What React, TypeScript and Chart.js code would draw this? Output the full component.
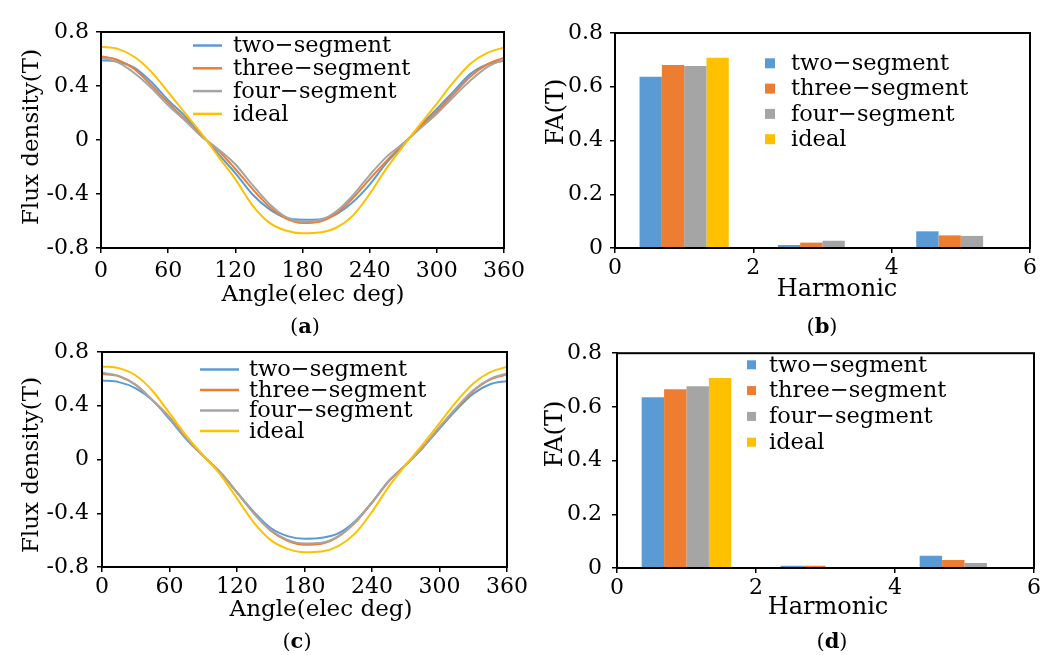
import React, { useEffect, useRef } from 'react';
import { Chart, registerables } from 'chart.js';

Chart.register(...registerables);

const FONT = '"DejaVu Serif", serif';
const SERIES_NAMES = ['two\u2212segment', 'three\u2212segment', 'four\u2212segment', 'ideal'];
const COLORS = ['#5B9BD5', '#ED7D31', '#A5A5A5', '#FFC000'];

// Flux density waveforms (electrical degrees)
const ANGLES = [0, 15, 30, 45, 60, 75, 90, 105, 120, 135, 150, 165, 180, 195, 210, 225, 240, 255, 270, 285, 300, 315, 330, 345, 360];

const A_TWO = [0.59, 0.58, 0.535, 0.43, 0.295, 0.177, 0.038, -0.105, -0.245, -0.4, -0.51, -0.575, -0.59, -0.588, -0.55, -0.46, -0.33, -0.17, -0.038, 0.105, 0.23, 0.36, 0.49, 0.56, 0.588];
const A_THREE = [0.62, 0.593, 0.525, 0.405, 0.275, 0.155, 0.03, -0.08, -0.215, -0.36, -0.49, -0.58, -0.615, -0.605, -0.545, -0.43, -0.29, -0.155, -0.03, 0.095, 0.21, 0.34, 0.47, 0.56, 0.61];
const A_FOUR = [0.61, 0.575, 0.495, 0.385, 0.257, 0.145, 0.025, -0.07, -0.18, -0.33, -0.47, -0.57, -0.605, -0.595, -0.53, -0.41, -0.26, -0.125, -0.025, 0.085, 0.195, 0.32, 0.44, 0.54, 0.595];
const A_IDEAL = [0.69, 0.675, 0.615, 0.505, 0.355, 0.2, 0.045, -0.125, -0.29, -0.48, -0.61, -0.67, -0.69, -0.685, -0.65, -0.56, -0.4, -0.21, -0.045, 0.115, 0.27, 0.43, 0.565, 0.645, 0.685];

const C_TWO = [0.588, 0.576, 0.53, 0.44, 0.3, 0.15, 0.025, -0.095, -0.245, -0.39, -0.51, -0.57, -0.59, -0.583, -0.55, -0.46, -0.32, -0.16, -0.04, 0.085, 0.23, 0.37, 0.49, 0.56, 0.585];
const C_THREE = [0.636, 0.62, 0.555, 0.44, 0.315, 0.16, 0.027, -0.095, -0.245, -0.4, -0.53, -0.605, -0.635, -0.628, -0.575, -0.47, -0.32, -0.16, -0.04, 0.09, 0.24, 0.38, 0.51, 0.595, 0.632];
const C_FOUR = [0.645, 0.622, 0.555, 0.44, 0.31, 0.16, 0.027, -0.095, -0.245, -0.4, -0.525, -0.598, -0.625, -0.62, -0.57, -0.465, -0.32, -0.16, -0.04, 0.09, 0.24, 0.385, 0.515, 0.6, 0.64];
const C_IDEAL = [0.693, 0.68, 0.625, 0.51, 0.345, 0.175, 0.03, -0.11, -0.29, -0.47, -0.6, -0.665, -0.69, -0.685, -0.645, -0.55, -0.39, -0.2, -0.04, 0.11, 0.27, 0.43, 0.565, 0.65, 0.69];

// Harmonic amplitudes
const HARMONICS = [1, 3, 5];
const B_TWO = [0.637, 0.011, 0.062];
const B_THREE = [0.681, 0.02, 0.047];
const B_FOUR = [0.677, 0.027, 0.045];
const B_IDEAL = [0.708, 0, 0];

const D_TWO = [0.636, 0.0085, 0.046];
const D_THREE = [0.666, 0.0085, 0.03];
const D_FOUR = [0.677, 0.004, 0.019];
const D_IDEAL = [0.708, 0, 0];

const LINE_X_TICKS = { min: 0, max: 360, step: 60 };
const LINE_Y_TICKS = { min: -0.8, max: 0.8, step: 0.4 };
const BAR_X_TICKS = { min: 0, max: 6, step: 2 };
const BAR_Y_TICKS = { min: 0, max: 0.8, step: 0.2 };

type Geo = {
  top: number; right: number; yw: number; xh: number; xpad: number; ypad: number;
  titleSize: number;
  xTitle: string; xtx: number; xty: number;
  yTitle: string; ytx: number; yty: number;
  leg: { kind: 'line' | 'box'; x0: number; w: number; textX: number; y0: number; dy: number };
};

function decorPlugin(g: Geo) {
  return {
    id: 'panelDecor',
    afterDraw(chart: any) {
      const { ctx, chartArea: ca } = chart;
      ctx.save();
      ctx.strokeStyle = '#000';
      ctx.lineWidth = 2;
      ctx.strokeRect(ca.left, ca.top, ca.right - ca.left, ca.bottom - ca.top);
      ctx.fillStyle = '#000';
      ctx.textAlign = 'center';
      ctx.textBaseline = 'middle';
      ctx.font = `${g.titleSize}px ${FONT}`;
      ctx.fillText(g.xTitle, g.xtx, g.xty);
      ctx.save();
      ctx.translate(g.ytx, g.yty);
      ctx.rotate(-Math.PI / 2);
      ctx.fillText(g.yTitle, 0, 0);
      ctx.restore();
      ctx.font = `22.5px ${FONT}`;
      ctx.textAlign = 'left';
      chart.data.datasets.forEach((ds: any, i: number) => {
        const y = g.leg.y0 + i * g.leg.dy;
        if (g.leg.kind === 'line') {
          ctx.strokeStyle = ds.borderColor;
          ctx.lineWidth = 2.5;
          ctx.beginPath();
          ctx.moveTo(g.leg.x0, y);
          ctx.lineTo(g.leg.x0 + g.leg.w, y);
          ctx.stroke();
        } else {
          ctx.fillStyle = ds.backgroundColor;
          ctx.fillRect(g.leg.x0, y - g.leg.w / 2, g.leg.w, g.leg.w);
        }
        ctx.fillStyle = '#000';
        ctx.fillText(ds.label, g.leg.textX, y + 1);
      });
      ctx.restore();
    },
  };
}

const gridStyle = { drawOnChartArea: false, drawTicks: true, tickLength: 5, color: '#000', lineWidth: 1.5 };
const borderStyle = { display: true, color: '#000', width: 2 };
const tickFont = { family: FONT, size: 22 };

function baseOptions(g: Geo, xt: any, yt: any, xExtra: any = {}) {
  return {
    responsive: false,
    animation: false,
    devicePixelRatio: 1,
    layout: { padding: { left: 0, top: g.top, right: g.right, bottom: 0 } },
    plugins: { legend: { display: false }, tooltip: { enabled: false } },
    scales: {
      x: {
        type: 'linear',
        min: xt.min, max: xt.max,
        afterFit: (s: any) => { s.height = g.xh; },
        ticks: { stepSize: xt.step, font: tickFont, color: '#000', padding: g.xpad, autoSkip: false, maxRotation: 0 },
        grid: { ...gridStyle },
        border: borderStyle,
        ...xExtra,
      },
      y: {
        type: 'linear',
        min: yt.min, max: yt.max,
        afterFit: (s: any) => { s.width = g.yw; },
        ticks: { stepSize: yt.step, font: tickFont, color: '#000', padding: g.ypad, autoSkip: false },
        grid: gridStyle,
        border: borderStyle,
      },
    },
  };
}

function lineConfig(series: number[][], g: Geo) {
  return {
    type: 'line',
    data: {
      datasets: series.map((vals, i) => ({
        label: SERIES_NAMES[i],
        data: ANGLES.map((a, k) => ({ x: a, y: vals[k] })),
        borderColor: COLORS[i],
        backgroundColor: COLORS[i],
        borderWidth: 2,
        pointRadius: 0,
        cubicInterpolationMode: 'monotone',
        fill: false,
        order: 4 - i,
      })),
    },
    options: baseOptions(g, LINE_X_TICKS, LINE_Y_TICKS),
    plugins: [decorPlugin(g)],
  };
}

function barConfig(series: number[][], g: Geo) {
  return {
    type: 'bar',
    data: {
      datasets: series.map((vals, i) => ({
        label: SERIES_NAMES[i],
        data: HARMONICS.map((h, k) => ({ x: h, y: vals[k] })),
        backgroundColor: COLORS[i],
        borderWidth: 0,
        categoryPercentage: 0.645,
        barPercentage: 1,
      })),
    },
    options: baseOptions(g, BAR_X_TICKS, BAR_Y_TICKS, { offset: false, grid: { ...gridStyle, offset: false } }),
    plugins: [decorPlugin(g)],
  };
}

const GEO_A: Geo = {
  top: 32, right: 21, yw: 101, xh: 62, xpad: 5, ypad: 7, titleSize: 23,
  xTitle: 'Angle(elec deg)', xtx: 313, xty: 295,
  yTitle: 'Flux density(T)', ytx: 32, yty: 137,
  leg: { kind: 'line', x0: 193, w: 29, textX: 233, y0: 45.5, dy: 22.8 },
};
const GEO_B: Geo = {
  top: 33, right: 22, yw: 85, xh: 62, xpad: 2, ypad: 7, titleSize: 24,
  xTitle: 'Harmonic', xtx: 307, xty: 290,
  yTitle: 'FA(T)', ytx: 27, yty: 112,
  leg: { kind: 'box', x0: 235, w: 10, textX: 261, y0: 63.3, dy: 25.3 },
};
const GEO_C: Geo = {
  top: 22, right: 21, yw: 102, xh: 63, xpad: 2, ypad: 8, titleSize: 23,
  xTitle: 'Angle(elec deg)', xtx: 321, xty: 280,
  yTitle: 'Flux density(T)', ytx: 32, yty: 135,
  leg: { kind: 'line', x0: 200, w: 39, textX: 249, y0: 39.5, dy: 20.5 },
};
const GEO_D: Geo = {
  top: 19, right: 18, yw: 87, xh: 62, xpad: 2, ypad: 10, titleSize: 24,
  xTitle: 'Harmonic', xtx: 298, xty: 278,
  yTitle: 'FA(T)', ytx: 26, yty: 104,
  leg: { kind: 'box', x0: 217, w: 9, textX: 239, y0: 34.8, dy: 25.8 },
};

function Panel({ left, top, width, height, build }: any) {
  const ref = useRef<HTMLCanvasElement>(null);
  useEffect(() => {
    const chart = new Chart(ref.current as HTMLCanvasElement, build());
    return () => chart.destroy();
  }, []);
  return (
    <canvas
      ref={ref}
      width={width}
      height={height}
      style={{ position: 'absolute', left, top, width, height }}
    />
  );
}

function Caption({ cx, cy, letter }: any) {
  return (
    <div
      style={{
        position: 'absolute', left: cx - 40, top: cy - 13, width: 80, height: 26,
        textAlign: 'center', fontFamily: FONT, fontSize: 21, lineHeight: '26px', color: '#000',
      }}
    >
      (<b>{letter}</b>)
    </div>
  );
}

export default function App() {
  return (
    <div style={{ position: 'absolute', left: 0, top: 0, width: 1052, height: 655, background: '#fff', overflow: 'hidden' }}>
      <Panel left={0} top={0} width={530} height={310} build={() => lineConfig([A_TWO, A_THREE, A_FOUR, A_IDEAL], GEO_A)} />
      <Panel left={530} top={0} width={522} height={310} build={() => barConfig([B_TWO, B_THREE, B_FOUR, B_IDEAL], GEO_B)} />
      <Panel left={0} top={330} width={530} height={300} build={() => lineConfig([C_TWO, C_THREE, C_FOUR, C_IDEAL], GEO_C)} />
      <Panel left={530} top={330} width={522} height={300} build={() => barConfig([D_TWO, D_THREE, D_FOUR, D_IDEAL], GEO_D)} />
      <Caption cx={305} cy={326} letter="a" />
      <Caption cx={822} cy={326} letter="b" />
      <Caption cx={297} cy={641} letter="c" />
      <Caption cx={832} cy={641} letter="d" />
    </div>
  );
}
